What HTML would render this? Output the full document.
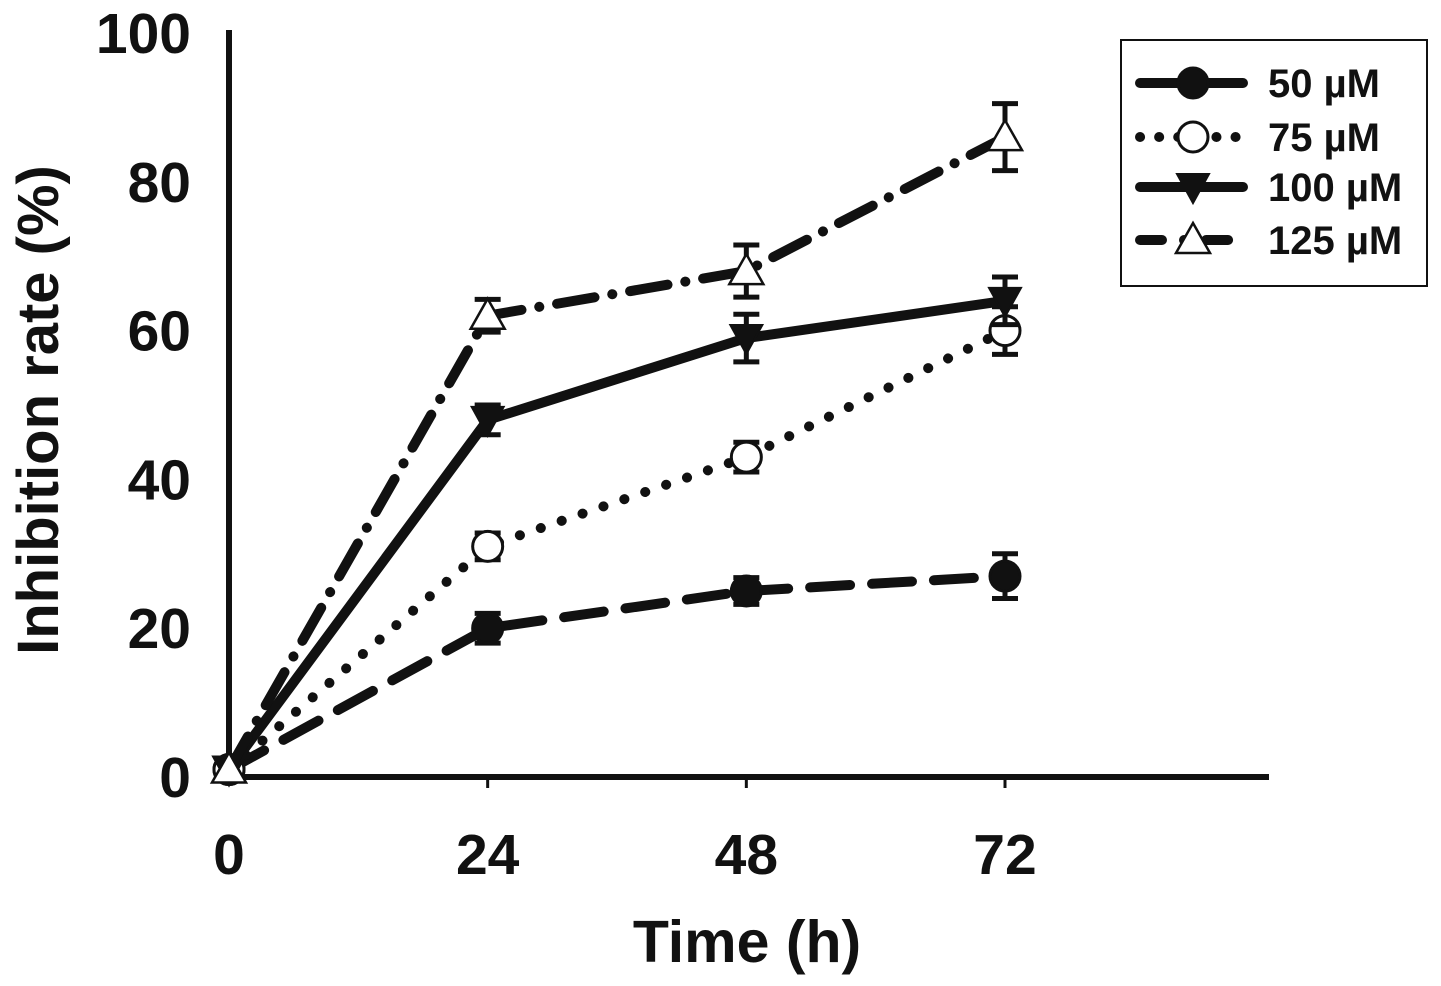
<!DOCTYPE html>
<html><head><meta charset="utf-8"><style>
html,body{margin:0;padding:0;background:#fff;}
svg{display:block;font-family:"Liberation Sans",Arial,sans-serif;font-weight:bold;}
</style></head><body>
<svg id="chart" width="1441" height="986" viewBox="0 0 1441 986">
<g id="axes"></g>
<g id="series"></g>
<g id="legend"></g>
</svg>
<script>
const times = [0, 24, 48, 72];
const xTicks = [0, 24, 48, 72];
const yTicks = [0, 20, 40, 60, 80, 100];
const seriesNames = ["50 µM", "75 µM", "100 µM", "125 µM"];
const s50 = [1, 20, 25, 27];
const e50 = [0, 2, 1.8, 3];
const s75 = [1, 31, 43, 60];
const e75 = [0, 1.8, 2, 3.2];
const s100 = [1, 48, 59, 64];
const e100 = [0, 2, 3.2, 3.2];
const s125 = [1, 62, 68, 86];
const e125 = [0, 2.2, 3.5, 4.5];

const NS = "http://www.w3.org/2000/svg";
const X0 = 229, XS = (1005 - 229) / 72;
const Y0 = 777, YS = (777 - 33) / 100;
const xp = v => X0 + v * XS;
const yp = v => Y0 - v * YS;
function mk(tag, attrs, parent) {
  const el = document.createElementNS(NS, tag);
  for (const k in attrs) el.setAttribute(k, attrs[k]);
  parent.appendChild(el);
  return el;
}
const axes = document.getElementById("axes");
const ser = document.getElementById("series");
const leg = document.getElementById("legend");

let a = mk("line", {x1: X0, y1: 30, x2: X0, y2: Y0 + 2, stroke: "#111", "stroke-width": 6}, axes);


a = mk("line", {x1: X0 - 3, y1: Y0, x2: 1269, y2: Y0, stroke: "#111", "stroke-width": 6}, axes);



yTicks.forEach(v => {
  const t = mk("text", {x: 191, y: yp(v) + 20, "text-anchor": "end", "font-size": 57, fill: "#111"}, axes);
  t.textContent = v;
  
  
});
xTicks.forEach(v => {
  if (v > 0) mk("line", {x1: xp(v), y1: Y0, x2: xp(v), y2: Y0 + 11, stroke: "#111", "stroke-width": 3}, axes);
  const t = mk("text", {x: xp(v), y: 874, "text-anchor": "middle", "font-size": 57, fill: "#111"}, axes);
  t.textContent = v;
  
  
});
let t = mk("text", {x: 747, y: 962, "text-anchor": "middle", "font-size": 59, fill: "#111"}, axes);
t.textContent = "Time (h)";


t = mk("text", {x: 0, y: 0, "text-anchor": "middle", "font-size": 58, fill: "#111", transform: "translate(58,410) rotate(-90)"}, axes);
t.textContent = "Inhibition rate (%)";



const styles = [
  {vals: s50, errs: e50, dash: "40 22", marker: "circle", fill: "#111", name: "series-50um"},
  {vals: s75, errs: e75, dash: "0.1 22", marker: "circle", fill: "#fff", name: "series-75um"},
  {vals: s100, errs: e100, dash: "", marker: "tridown", fill: "#111", name: "series-100um"},
  {vals: s125, errs: e125, dash: "38 18 0.1 18", marker: "triup", fill: "#fff", name: "series-125um"}
];
function marker(type, cx, cy, fill, g) {
  if (type === "circle") return mk("circle", {cx, cy, r: 15, fill, stroke: "#111", "stroke-width": 3}, g);
  if (type === "tridown") return mk("polygon", {points: `${cx-16},${cy-13} ${cx+16},${cy-13} ${cx},${cy+16}`, fill, stroke: "#111", "stroke-width": 2}, g);
  return mk("polygon", {points: `${cx},${cy-17} ${cx+17},${cy+13} ${cx-17},${cy+13}`, fill, stroke: "#111", "stroke-width": 2.5}, g);
}
styles.forEach(s => {
  const g = mk("g", {}, ser);
  
  
  const pts = times.map((tm, i) => xp(tm) + "," + yp(s.vals[i])).join(" ");
  const attrs = {points: pts, fill: "none", stroke: "#111", "stroke-width": 10, "stroke-linecap": "round", "stroke-linejoin": "round"};
  if (s.dash) attrs["stroke-dasharray"] = s.dash;
  mk("polyline", attrs, g);
  times.forEach((tm, i) => {
    const e = s.errs[i];
    if (e > 0) {
      const x = xp(tm), y1 = yp(s.vals[i] + e), y2 = yp(s.vals[i] - e);
      mk("line", {x1: x, y1, x2: x, y2, stroke: "#111", "stroke-width": 5}, g);
      mk("line", {x1: x - 13, y1, x2: x + 13, y2: y1, stroke: "#111", "stroke-width": 5}, g);
      mk("line", {x1: x - 13, y1: y2, x2: x + 13, y2, stroke: "#111", "stroke-width": 5}, g);
    }
    const m = marker(s.marker, xp(tm), yp(s.vals[i]), s.fill, g);
    
    
  });
});

const box = mk("rect", {x: 1121, y: 40, width: 306, height: 246, fill: "#fff", stroke: "#111", "stroke-width": 2}, leg);


const legStyles = [
  {dash: "", marker: "circle", fill: "#111"},
  {dash: "0.1 19", marker: "circle", fill: "#fff"},
  {dash: "", marker: "tridown", fill: "#111"},
  {dash: "22 22 0.1 22", marker: "triup", fill: "#fff"}
];
const legY = [83, 137, 187, 240];
seriesNames.forEach((n, i) => {
  const g = mk("g", {}, leg);
  
  
  const ls = legStyles[i];
  const at = {x1: 1140, y1: legY[i], x2: 1243, y2: legY[i], stroke: "#111", "stroke-width": 10, "stroke-linecap": "round"};
  if (ls.dash) at["stroke-dasharray"] = ls.dash;
  mk("line", at, g);
  marker(ls.marker, 1193, legY[i], ls.fill, g);
  const tx = mk("text", {x: 1268, y: legY[i] + 14, "font-size": 40, fill: "#111"}, g);
  tx.textContent = n;
});
</script>
</body></html>
